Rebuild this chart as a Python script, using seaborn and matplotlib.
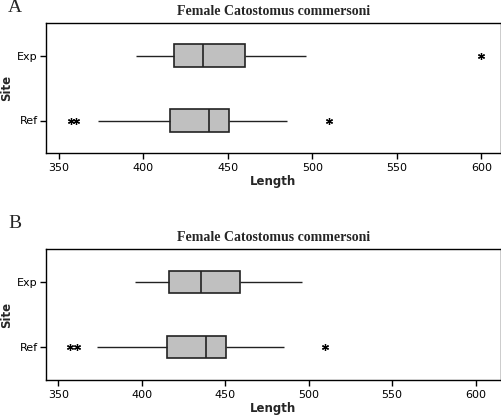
import numpy as np
import pandas as pd
import seaborn as sns
import matplotlib
matplotlib.use("Agg")
import matplotlib.pyplot as plt

sites = ["Exp", "Ref"]

# Panel A raw-like values (quartiles / whiskers / outliers)
exp_a = [396, 418, 418, 435.5, 435.5, 460, 460, 496, 600]
ref_a = [357, 360, 373, 416, 416, 439, 439, 450.5, 450.5, 450.5, 485, 485, 510]
# Panel B
exp_b = [396, 416, 435.3, 459, 496]
ref_b = [357, 361, 373, 415, 415, 438.7, 438.7, 450.7, 450.7, 450.7, 485, 485, 510]

xticks = [350, 400, 450, 500, 550, 600]
title = "Female Catostomus commersoni"

sns.set_style("white")
plt.rcParams["font.family"] = ["DejaVu Sans"]

fig = plt.figure(figsize=(5.02, 4.16), dpi=100)
axA = fig.add_axes([46/502, 1-153/416, (501-46)/502, 130/416])
axB = fig.add_axes([46/502, 1-380/416, (501-46)/502, 131/416])

def make_df(exp, ref):
    return pd.DataFrame({"Length": list(exp) + list(ref),
                         "Site": ["Exp"]*len(exp) + ["Ref"]*len(ref)})

def draw(ax, df, xlim, label, label_y):
    sns.boxplot(data=df, x="Length", y="Site", order=sites, ax=ax,
                orient="h", width=0.34, color="#c0c0c0", saturation=1,
                showcaps=False, whis=1.5,
                boxprops=dict(facecolor="#c0c0c0", edgecolor="#222222", linewidth=1.2),
                medianprops=dict(color="#222222", linewidth=1.2),
                whiskerprops=dict(color="#222222", linewidth=1.0),
                flierprops=dict(marker=(6, 2, 0), markersize=5,
                                markeredgecolor="black", markerfacecolor="black",
                                markeredgewidth=0.9))
    ax.set_xlim(*xlim)
    ax.set_ylim(1.5, -0.5)
    ax.set_xticks(xticks)
    ax.tick_params(axis="both", direction="out", length=4, width=1,
                   labelsize=8, colors="black", bottom=True, left=True)
    ax.tick_params(axis="y", pad=2)
    for s in ax.spines.values():
        s.set_visible(True)
        s.set_color("black")
        s.set_linewidth(1.0)
    ax.set_xlabel("Length", fontsize=8.5, fontweight="bold", labelpad=1)
    ax.set_ylabel("Site", fontsize=8.5, fontweight="bold", labelpad=3)
    ax.set_title(title, fontsize=10, fontweight="bold",
                 family="Liberation Serif", pad=6)
    fig.text(8/502, 1-label_y/416, label, fontsize=14,
             family="Liberation Serif", va="center", ha="left")

draw(axA, make_df(exp_a, ref_a), (342.5, 611.6), "A", 8)
draw(axB, make_df(exp_b, ref_b), (342.6, 615.2), "B", 224)

fig.savefig("out.png", dpi=100)
